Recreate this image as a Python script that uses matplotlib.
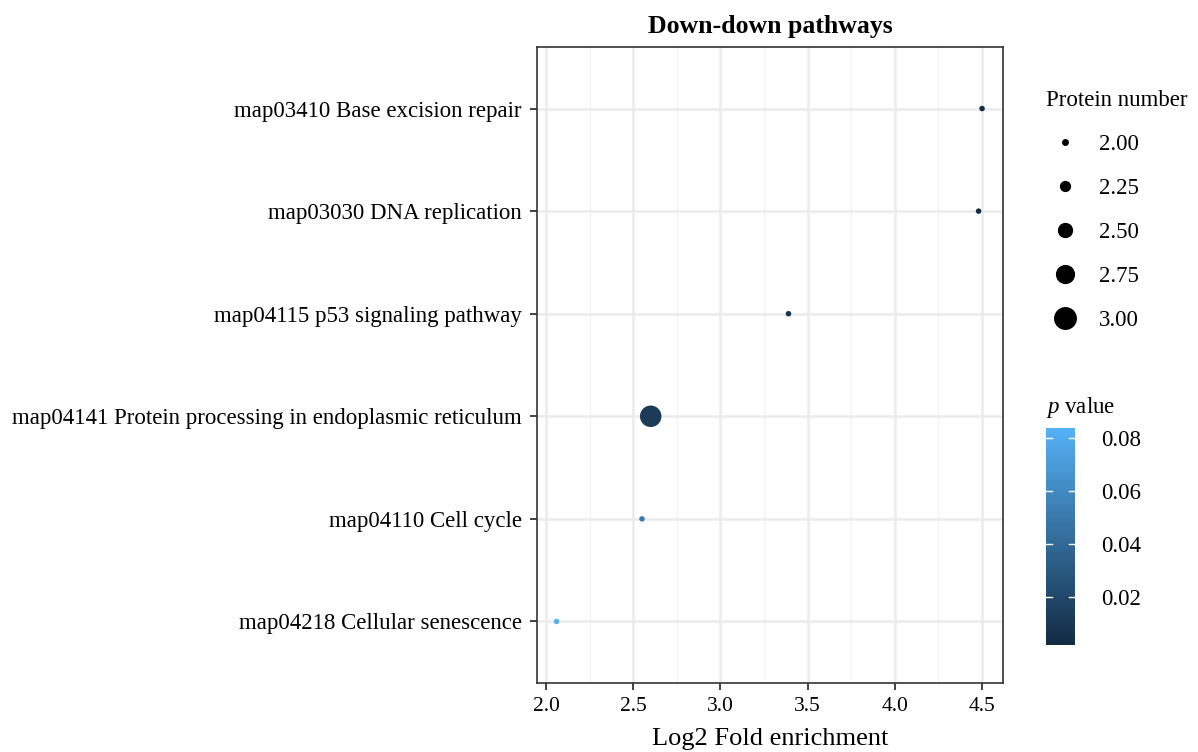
import matplotlib
matplotlib.use('Agg')
import matplotlib.pyplot as plt
from matplotlib.colors import LinearSegmentedColormap, Normalize
from matplotlib.lines import Line2D
import numpy as np

plt.rcParams['font.family'] = ['Liberation Serif', 'DejaVu Serif']
plt.rcParams['mathtext.fontset'] = 'custom'
plt.rcParams['mathtext.it'] = 'Liberation Serif:italic'
plt.rcParams['mathtext.rm'] = 'Liberation Serif'

# ---------------- data ----------------
pathways = ['map03410 Base excision repair',
            'map03030 DNA replication',
            'map04115 p53 signaling pathway',
            'map04141 Protein processing in endoplasmic reticulum',
            'map04110 Cell cycle',
            'map04218 Cellular senescence']
fold_enrichment = [4.50, 4.48, 3.39, 2.60, 2.55, 2.06]
protein_number = [2, 2, 2, 3, 2, 2]
p_values = [0.0025, 0.0019, 0.008, 0.012, 0.050, 0.0838]

size_breaks = [2.00, 2.25, 2.50, 2.75, 3.00]
p_ticks = [0.02, 0.04, 0.06, 0.08]
p_min, p_max = 0.0019, 0.0838

# ggplot default gradient
cmap = LinearSegmentedColormap.from_list('gg', ['#132B43', '#56B1F7'])
norm = Normalize(vmin=p_min, vmax=p_max)


def diam_px(n):  # area-like size scale, like scale_size
    t = (np.sqrt(n) - np.sqrt(2)) / (np.sqrt(3) - np.sqrt(2))
    return 5.5 + t * 16.0


W, H = 1198, 752
fig = plt.figure(figsize=(W / 100, H / 100), dpi=100)

# panel: x 537..1003, y 47..683 (pixels)
ax = fig.add_axes([537 / W, 1 - 683 / H, (1003 - 537) / W, (683 - 47) / H])

ypos = np.arange(len(pathways))[::-1] + 1
sizes = [(diam_px(n) * 0.72) ** 2 for n in protein_number]
ax.scatter(fold_enrichment, ypos, s=sizes, c=p_values, cmap=cmap, norm=norm,
           linewidths=0, zorder=3)

ax.set_xlim(1.948, 4.62)
ax.set_ylim(0.4, 6.6)
ax.set_xticks([2.0, 2.5, 3.0, 3.5, 4.0, 4.5])
ax.set_xticklabels(['2.0', '2.5', '3.0', '3.5', '4.0', '4.5'], fontsize=15.5)
ax.set_xticks([2.25, 2.75, 3.25, 3.75, 4.25], minor=True)
ax.set_yticks(ypos)
ax.set_yticklabels(pathways, fontsize=16.5)
ax.grid(True, which='major', color='#ebebeb', linewidth=1.8, zorder=0)
ax.grid(True, which='minor', axis='x', color='#f2f2f2', linewidth=0.9, zorder=0)
ax.set_axisbelow(True)
ax.tick_params(which='major', length=5, width=1.3, color='#333333')
ax.tick_params(axis='y', pad=6)
ax.tick_params(axis='x', pad=5)
ax.tick_params(which='minor', length=0)
for sp in ax.spines.values():
    sp.set_color('#333333')
    sp.set_linewidth(1.2)
ax.set_xlabel('Log2 Fold enrichment', fontsize=19, labelpad=9)
ax.set_title('Down-down pathways', fontsize=18.5, fontweight='bold', pad=10)

# size legend
handles = [Line2D([], [], linestyle='none', marker='o', color='black',
                  markersize=diam_px(b) * 0.72) for b in size_breaks]
leg = fig.legend(handles, ['%.2f' % b for b in size_breaks], title='Protein number',
                 loc='upper left', bbox_to_anchor=(1037 / W, 1 - 81 / H),
                 frameon=False, fontsize=16.5, title_fontsize=16.5,
                 labelspacing=1.0, handletextpad=0.7, borderaxespad=0,
                 handlelength=1.6)
leg._legend_box.align = 'left'

# colour bar
cax = fig.add_axes([1046 / W, 1 - 645 / H, 29 / W, (645 - 428) / H])
grad = np.linspace(p_min, p_max, 300).reshape(-1, 1)
cax.imshow(grad, aspect='auto', origin='lower', cmap=cmap, norm=norm,
           extent=[0, 1, p_min, p_max])
cax.set_xlim(0, 1)
cax.set_ylim(p_min, p_max)
cax.set_xticks([])
cax.yaxis.tick_right()
cax.set_yticks(p_ticks)
cax.set_yticklabels(['%.2f' % t for t in p_ticks], fontsize=16.5)
cax.tick_params(axis='y', length=0, pad=19)
for t in p_ticks:
    cax.plot([0, 0.2], [t, t], color='white', linewidth=1)
    cax.plot([0.8, 1], [t, t], color='white', linewidth=1)
for sp in cax.spines.values():
    sp.set_visible(False)
fig.text(1046 / W, 1 - 407 / H, r'$p$ value', fontsize=16.5, va='center',
         ha='left')

fig.savefig('out.png', dpi=100)
